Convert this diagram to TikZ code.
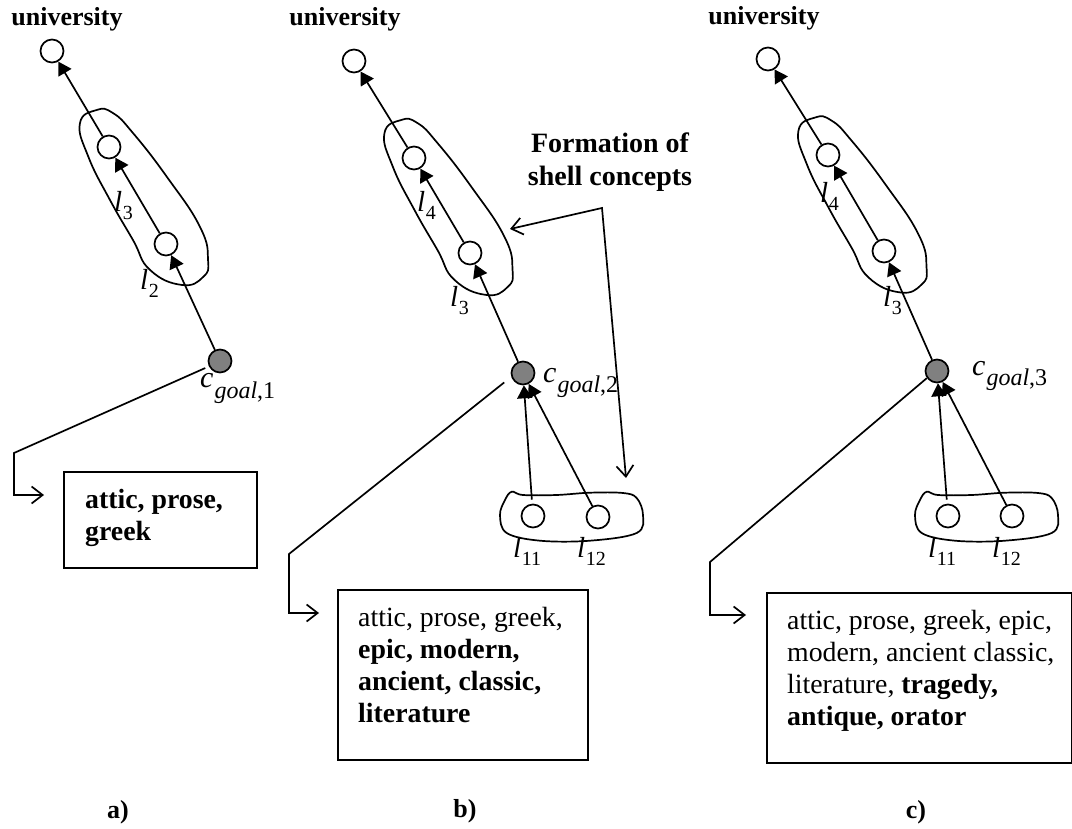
\documentclass[tikz,border=0pt]{standalone}
\usepackage{fontspec}
\setmainfont{Liberation Serif}
\usetikzlibrary{arrows.meta}
\newcommand\lsub[1]{{\fontsize{29}{29}\selectfont\textit{l}\kern0.5pt\raisebox{-8pt}{\fontsize{20}{20}\selectfont #1}}}
\newcommand\cgoal[1]{{\fontsize{30}{30}\selectfont\textit{c}\kern1pt\raisebox{-10pt}{\fontsize{24}{24}\selectfont\textit{goal},#1}}}
\tikzset{
  ln/.style={line width=1.7pt},
  vtx/.style={circle, draw, line width=1.7pt, minimum size=23pt, inner sep=0pt, fill=white},
  gv/.style={vtx, fill=gray},
  arr/.style={ln, -{Triangle[length=13pt,width=15pt]}},
  barb/.style={ln, -{Straight Barb[length=11pt,width=17pt]}},
  kbox/.style={draw, line width=1.7pt, inner sep=0pt, anchor=north west},
  ttl/.style={font=\fontsize{26}{30}\selectfont\bfseries, inner sep=0pt, anchor=base},
  frm/.style={font=\fontsize{28}{33}\selectfont\bfseries, inner sep=0pt, align=center, anchor=north},
  btxt/.style={font=\fontsize{27.8}{32}\selectfont, align=left, anchor=north west, inner sep=0pt},
  lab/.style={inner sep=0pt, anchor=base west},
  shell/.pic={\draw[ln] plot[smooth cycle, tension=0.8] coordinates {(-94.4,8.1) (-83.5,20.7) (-56.2,27.8) (-0.9,34.8) (58.9,37.9) (91.3,28.1) (103.5,15.2) (99.5,-7.3) (70.5,-27) (36.1,-26.5) (-10,-26) (-58.3,-22.7) (-91.4,-13)};},
  blob/.pic={\draw[ln] plot[smooth cycle, tension=0.6] coordinates {(11.7,-1.7) (23,-5) (56.7,-5) (90,-2.7) (123,-3) (136.7,-8) (143,-25) (136.7,-43) (90,-50.7) (40,-50.7) (6.7,-43) (0,-25) (5,-10)};}
}
\begin{document}
\begin{tikzpicture}[x=1pt,y=1pt]
\useasboundingbox (0,0) rectangle (1072,-829);

% shells
\pic[rotate=-59.5] at (137.5,-195.5) {shell};
\pic[rotate=-59.5] at (442,-205.5) {shell};
\pic[rotate=-59.5] at (856,-203) {shell};
\pic at (500,-490) {blob};
\pic at (915,-490) {blob};

% titles
\node[ttl] (ua) at (67,-26) {university};
\node[ttl] (ub) at (345,-26) {university};
\node[ttl] (uc) at (764,-25) {university};

% ---------- panel a
\node[vtx] (a0) at (52,-51) {};
\node[vtx] (a2) at (109,-147) {};
\node[vtx] (a3) at (166,-244) {};
\node[gv]  (ag) at (220,-361) {};
\draw[arr] (ag) -- (a3);
\draw[arr] (a3) -- (a2);
\draw[arr] (a2) -- (a0);
\node[lab] (la3) at (114,-212) {\lsub{3}};
\node[lab] (la2) at (140,-290) {\lsub{2}};
\node[lab] (cga) at (200,-388) {\cgoal{1}};
\node[kbox, minimum width=193pt, minimum height=96pt] (boxa) at (63,-471) {};
\node[btxt] (txa) at (85,-489) {\textbf{attic, prose,}\\\textbf{greek}};
\coordinate (ka1) at (14,-453);
\coordinate (ka2) at (14,-495);
\coordinate (ka3) at (44,-495);
\draw[barb, shorten <=4pt] (ag.206) -- (ka1) -- (ka2) -- (ka3);
\node[ttl] (pa) at (118,-818) {a)};

% ---------- panel b
\node[vtx] (b0) at (354,-61) {};
\node[vtx] (b2) at (414,-158) {};
\node[vtx] (b3) at (470,-253) {};
\node[gv]  (bg) at (523,-373) {};
\node[vtx] (b11) at (533,-516) {};
\node[vtx] (b12) at (598,-517) {};
\draw[arr] (bg) -- (b3);
\draw[arr] (b3) -- (b2);
\draw[arr] (b2) -- (b0);
\draw[arr, shorten <=4pt] (b11) -- (bg);
\draw[arr] (b12) -- (bg);
\node[lab] (lb4) at (417,-212) {\lsub{4}};
\node[lab] (lb3) at (450,-307) {\lsub{3}};
\node[lab] (lb11) at (513,-557) {\lsub{11}};
\node[lab] (lb12) at (577,-557) {\lsub{12}};
\node[lab] (cgb) at (543,-382) {\cgoal{2}};
\node[frm] (form) at (610,-133) {Formation of\\shell concepts};
\coordinate (fe) at (510,-229);
\coordinate (fc) at (602,-208);
\coordinate (fb) at (626,-478);
\draw[ln, {Straight Barb[length=11pt,width=17pt]}-{Straight Barb[length=11pt,width=17pt]}] (fe) -- (fc) -- (fb);
\node[kbox, minimum width=250pt, minimum height=170pt] (boxb) at (337,-589) {};
\node[btxt] (txb) at (358,-607) {attic, prose, greek,\\\textbf{epic, modern,}\\\textbf{ancient, classic,}\\\textbf{literature}};
\coordinate (kb1) at (289,-554);
\coordinate (kb2) at (289,-613);
\coordinate (kb3) at (319,-613);
\draw[barb, shorten <=9pt] (bg.198) -- (kb1) -- (kb2) -- (kb3);
\node[ttl] (pb) at (465,-817) {b)};

% ---------- panel c
\node[vtx] (c0) at (768,-59) {};
\node[vtx] (c2) at (828,-155) {};
\node[vtx] (c3) at (884,-251) {};
\node[gv]  (cg) at (937,-371) {};
\node[vtx] (c11) at (948,-516) {};
\node[vtx] (c12) at (1012,-516) {};
\draw[arr] (cg) -- (c3);
\draw[arr] (c3) -- (c2);
\draw[arr] (c2) -- (c0);
\draw[arr, shorten <=4pt] (c11) -- (cg);
\draw[arr] (c12) -- (cg);
\node[lab] (lc4) at (820,-203) {\lsub{4}};
\node[lab] (lc3) at (883,-307) {\lsub{3}};
\node[lab] (lc11) at (928,-557) {\lsub{11}};
\node[lab] (lc12) at (992,-557) {\lsub{12}};
\node[lab] (cgc) at (972,-375) {\cgoal{3}};
\node[kbox, minimum width=305pt, minimum height=170pt] (boxc) at (766,-592) {};
\node[btxt] (txc) at (787,-610) {attic, prose, greek, epic,\\modern, ancient classic,\\literature, \textbf{tragedy,}\\\textbf{antique, orator}};
\coordinate (kc1) at (710,-562);
\coordinate (kc2) at (710,-615);
\coordinate (kc3) at (746,-615);
\draw[barb] (cg.215) -- (kc1) -- (kc2) -- (kc3);
\node[ttl] (pc) at (916,-818) {c)};
\end{tikzpicture}
\end{document}
